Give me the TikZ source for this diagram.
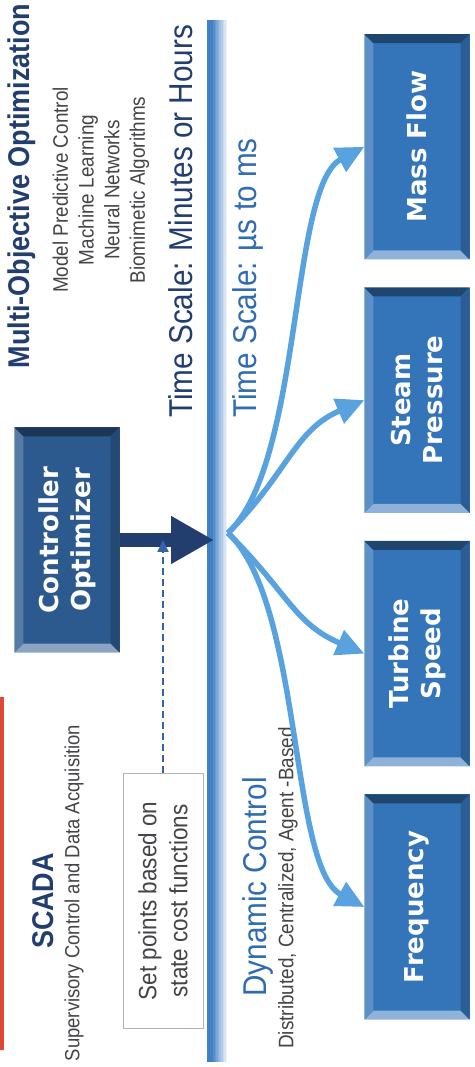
\documentclass[tikz,border=0pt]{standalone}
\usepackage{fontspec}
\setmainfont{Liberation Sans}
\newfontfamily\narrowsans{Liberation Sans}[FakeStretch=0.9]
\newfontfamily\boxsans{DejaVu Sans}
\usepackage{tikz}
\usetikzlibrary{positioning, arrows.meta, calc}
\definecolor{scadanavy}{RGB}{34, 62, 110}
\definecolor{scadablue}{RGB}{48, 108, 178}
\definecolor{btnblue}{RGB}{52, 116, 184}
\definecolor{btndark}{RGB}{44, 90, 143}
\definecolor{fanblue}{RGB}{88, 162, 224}
\definecolor{linkblue}{RGB}{52, 100, 168}
\definecolor{lineblue}{RGB}{66, 128, 196}
\definecolor{labelgray}{RGB}{68, 68, 72}
\definecolor{barred}{RGB}{222, 72, 52}
\newcommand{\bevel}[2]{%
  \fill[#2!55!white] (#1.south west) -- (#1.north west) -- ([shift={(9,-9)}]#1.north west) -- ([shift={(9,9)}]#1.south west) -- cycle;
  \fill[#2!80!white] (#1.north west) -- (#1.north east) -- ([shift={(-9,-9)}]#1.north east) -- ([shift={(9,-9)}]#1.north west) -- cycle;
  \fill[#2!60!black] (#1.north east) -- (#1.south east) -- ([shift={(-9,9)}]#1.south east) -- ([shift={(-9,-9)}]#1.north east) -- cycle;
  \fill[#2!80!black] (#1.south east) -- (#1.south west) -- ([shift={(9,9)}]#1.south west) -- ([shift={(-9,9)}]#1.south east) -- cycle;
}

\begin{document}
\begin{tikzpicture}[rotate=90, transform shape, x=1pt, y=1pt,
  valbox/.style={rectangle, fill=btnblue, text=white, align=center,
    minimum width=225pt, minimum height=105pt, inner sep=0pt,
    font=\boxsans\bfseries\fontsize{26}{32}\selectfont},
  ctrlbox/.style={valbox, fill=btndark},
  setbox/.style={rectangle, draw=gray!60, line width=1pt, fill=white,
    align=center, minimum width=255pt, minimum height=80pt, text=labelgray,
    font=\narrowsans\fontsize{25}{31}\selectfont},
  headtext/.style={inner sep=0pt, text=scadanavy,
    font=\narrowsans\bfseries\fontsize{30}{34}\selectfont},
  scaletext/.style={inner sep=0pt, font=\narrowsans\fontsize{33}{38}\selectfont},
  subtext/.style={inner sep=0pt, align=center, text=labelgray,
    font=\narrowsans\fontsize{21}{25.7}\selectfont},
  fanarrow/.style={draw=fanblue, line width=5.5pt,
    -{Triangle[length=28pt, width=26pt]}},
  ctrlarrow/.style={draw=scadanavy, line width=14pt,
    -{Triangle[length=43pt, width=45pt]}},
  setarrow/.style={draw=linkblue, line width=2pt, dash pattern=on 7pt off 4pt,
    -{Triangle[length=12pt, width=11pt]}}
]
  \fill[white] (0,0) rectangle (1067,-474);
  \useasboundingbox (0,0) rectangle (1067,-474);
  \fill[barred] (17,0) rectangle (370,-4);
  \fill[lineblue] (5,-207) rectangle (1047,-213);
  \foreach \k [evaluate=\k as \pct using int(90-10*\k)] in {0,...,8}
    \fill[lineblue!\pct!white] (5,-213-1.6*\k) rectangle (1047,-214.6-1.6*\k);

  \node[headtext] (moo) at (881,-22) {Multi-Objective Optimization};
  \node[subtext] (methods) at (877,-101) {Model Predictive Control\\Machine Learning\\Neural Networks\\Biomimetic Algorithms};
  \node[scaletext, anchor=west, text=scadanavy] (slow) at (649,-181) {Time Scale: Minutes or Hours};
  \node[scaletext, anchor=west, text=scadablue] (fast) at (649,-248) {Time Scale: µs to ms};
  \node[headtext] (scada) at (166,-43) {SCADA};
  \node[subtext, font=\narrowsans\fontsize{20.5}{25}\selectfont] (scadafull) at (174,-74) {Supervisory Control and Data Acquisition};
  \node[scaletext, text=scadablue] (dyn) at (180,-258) {Dynamic Control};
  \node[subtext] (dynkinds) at (179,-288) {Distributed, Centralized, Agent -Based};

  \node[ctrlbox] (ctrl) at (527,-67) {Controller\\Optimizer};
  \node[setbox] (setpts) at (166,-163) {Set points based on\\state cost functions};
  \node[valbox] (freq) at (160,-417) {Frequency};
  \node[valbox, right=28pt of freq] (turbine) {Turbine\\Speed};
  \node[valbox, right=28pt of turbine] (steam) {Steam\\Pressure};
  \node[valbox, right=28pt of steam] (massflow) {Mass Flow};
  \bevel{ctrl}{btndark}
  \bevel{freq}{btnblue}
  \bevel{turbine}{btnblue}
  \bevel{steam}{btnblue}
  \bevel{massflow}{btnblue}

  \coordinate (ctrltip) at (527,-214);
  \coordinate (hub) at (534,-228);
  \draw[ctrlarrow] (ctrl.south) -- (ctrltip);
  \draw[setarrow] (setpts.east) -- (setpts.east -| ctrl.south);
  \draw[fanarrow] (hub) .. controls +(70,-75) and +(-40,75) .. (massflow.north);
  \draw[fanarrow] (hub) .. controls +(60,-60) and +(-30,70) .. (steam.north);
  \draw[fanarrow] (hub) .. controls +(-60,-60) and +(30,70) .. (turbine.north);
  \draw[fanarrow] (hub) .. controls +(-70,-75) and +(40,75) .. (freq.north);
\end{tikzpicture}
\end{document}
